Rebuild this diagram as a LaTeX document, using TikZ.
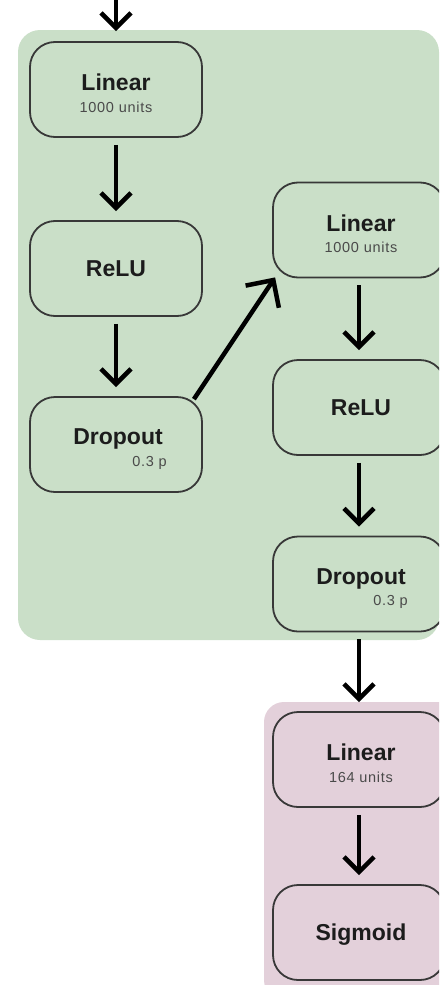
\documentclass[tikz,border=0pt]{standalone}
\usepackage{fontspec}
\setmainfont{Liberation Sans}
\usetikzlibrary{arrows.meta}
\definecolor{bggreen}{HTML}{CADFC8}
\definecolor{bgpink}{HTML}{E3D0DA}
\definecolor{edgec}{HTML}{383838}
\definecolor{subgray}{HTML}{4A4A4A}
\definecolor{ttlc}{HTML}{1C1C1C}
\begin{document}
\begin{tikzpicture}[x=1pt,y=-1pt,
  layer/.style={draw=edgec, line width=1.8pt, rounded corners=25pt, minimum width=172pt, minimum height=95pt, inner sep=0pt},
  ttl/.style={font=\fontsize{23}{25}\selectfont\bfseries, text=ttlc, anchor=base, inner sep=0pt},
  subt/.style={font=\fontsize{14.5}{16}\selectfont\addfontfeature{LetterSpace=5}, text=subgray, anchor=base, inner sep=0pt},
  flow/.style={line width=4.5pt, -{Straight Barb[length=15pt,width=30pt]}, shorten <=7pt, shorten >=9pt},
  bigflow/.style={line width=4.5pt, -{Straight Barb[length=20pt,width=40pt]}}
]
\useasboundingbox (0,0) rectangle (439,985);
\clip (0,0) rectangle (439,985);
% container backgrounds
\fill[bggreen, rounded corners=22pt] (18,30) rectangle (439,640);
\fill[bgpink, rounded corners=20pt] (264,702) rectangle (470,1000);
% layer boxes
\node[layer] (linL) at (116,89.5) {};
\node[layer] (reluL) at (116,268.5) {};
\node[layer] (dropL) at (116,444.5) {};
\node[layer] (linR) at (359,230) {};
\node[layer] (reluR) at (359,407.5) {};
\node[layer] (dropR) at (359,584) {};
\node[layer] (linP) at (359,759.5) {};
\node[layer] (sigP) at (359,932.5) {};
% labels
\node[ttl] (linLt) at ([yshift=-1pt]linL.center) {Linear};
\node[subt] (linLs) at ([yshift=-22.5pt]linL.center) {1000 units};
\node[ttl] (reluLt) at ([yshift=-8pt]reluL.center) {ReLU};
\node[ttl] (dropLt) at ([xshift=2pt,yshift=0pt]dropL.center) {Dropout};
\node[subt, anchor=base east] (dropLs) at ([xshift=-36pt,yshift=-21.5pt]dropL.east) {0.3 p};
\node[ttl] (linRt) at ([xshift=2pt,yshift=-1pt]linR.center) {Linear};
\node[subt] (linRs) at ([xshift=2pt,yshift=-22.5pt]linR.center) {1000 units};
\node[ttl] (reluRt) at ([xshift=2pt,yshift=-8pt]reluR.center) {ReLU};
\node[ttl] (dropRt) at ([xshift=2pt,yshift=0pt]dropR.center) {Dropout};
\node[subt, anchor=base east] (dropRs) at ([xshift=-38pt,yshift=-21.5pt]dropR.east) {0.3 p};
\node[ttl] (linPt) at ([xshift=2pt,yshift=-1pt]linP.center) {Linear};
\node[subt] (linPs) at ([xshift=2pt,yshift=-22.5pt]linP.center) {164 units};
\node[ttl] (sigPt) at ([xshift=2pt,yshift=-8pt]sigP.center) {Sigmoid};
% connectors
\coordinate (inp) at (116,-6);
\draw[flow, shorten <=0pt, shorten >=10pt] (inp) -- (linL.north);
\draw[flow] (linL) -- (reluL);
\draw[flow] (reluL) -- (dropL);
\draw[bigflow] ([xshift=-9pt,yshift=-3pt]dropL.north east) -- ([xshift=3pt,yshift=1pt]linR.south west);
\draw[flow] (linR) -- (reluR);
\draw[flow] (reluR) -- (dropR);
\draw[flow] (dropR) -- (linP);
\draw[flow] (linP) -- (sigP);
\end{tikzpicture}
\end{document}
